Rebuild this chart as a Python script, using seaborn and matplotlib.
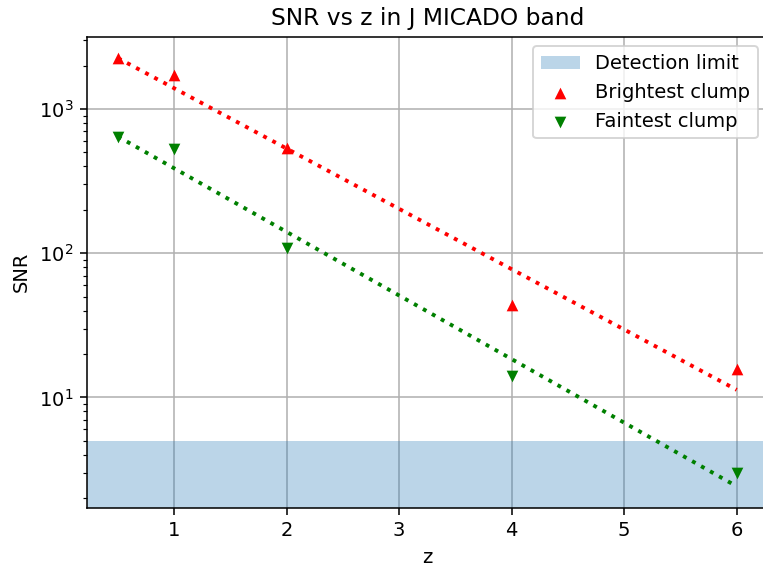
import numpy as np
import pandas as pd
import matplotlib
matplotlib.use("Agg")
import matplotlib.pyplot as plt
import seaborn as sns

# Redshifts of the simulated clumps
z = [0.5, 1, 2, 4, 6]
# SNR in the J MICADO band
snr_brightest = [2250, 1730, 538, 44, 15.8]
snr_faintest = [644, 530, 109, 14.0, 3.0]
detection_limit = 5

df = pd.DataFrame({"z": z, "bright": snr_brightest, "faint": snr_faintest})

# Exponential fit (linear in log10 SNR)
for col in ("bright", "faint"):
    coef = np.polyfit(df["z"], np.log10(df[col]), 1)
    df[col + "_fit"] = 10 ** np.polyval(coef, df["z"])

fig = plt.figure(figsize=(763 / 140, 572 / 140), dpi=140)
ax = fig.add_axes([87 / 763, 64.3 / 572, 680.6 / 763, 471 / 572])

sns.scatterplot(data=df, x="z", y="bright", marker="^", color="red",
                linewidth=0, s=36, ax=ax, label="Brightest clump", zorder=3)
sns.scatterplot(data=df, x="z", y="faint", marker="v", color="green",
                linewidth=0, s=36, ax=ax, label="Faintest clump", zorder=3)
sns.lineplot(data=df, x="z", y="bright_fit", color="red", linestyle=":",
             linewidth=2, ax=ax, zorder=2)
sns.lineplot(data=df, x="z", y="faint_fit", color="green", linestyle=":",
             linewidth=2, ax=ax, zorder=2)

ax.set_yscale("log")
ax.autoscale_view()
ylim = ax.get_ylim()
span = ax.axhspan(ylim[0] / 10, detection_limit, color="C0", alpha=0.3,
                  linewidth=0, label="Detection limit", zorder=1)
ax.set_ylim(ylim)

ax.grid(True, which="major", color="#b0b0b0", linewidth=0.8)
ax.set_axisbelow(True)
ax.set_xlabel("z")
ax.set_ylabel("SNR")
ax.set_title("SNR vs z in J MICADO band")

handles, labels = ax.get_legend_handles_labels()
order = [labels.index(l) for l in ("Detection limit", "Brightest clump", "Faintest clump")]
ax.legend([handles[i] for i in order], [labels[i] for i in order], loc="upper right")

fig.savefig("out.png", dpi=140)
